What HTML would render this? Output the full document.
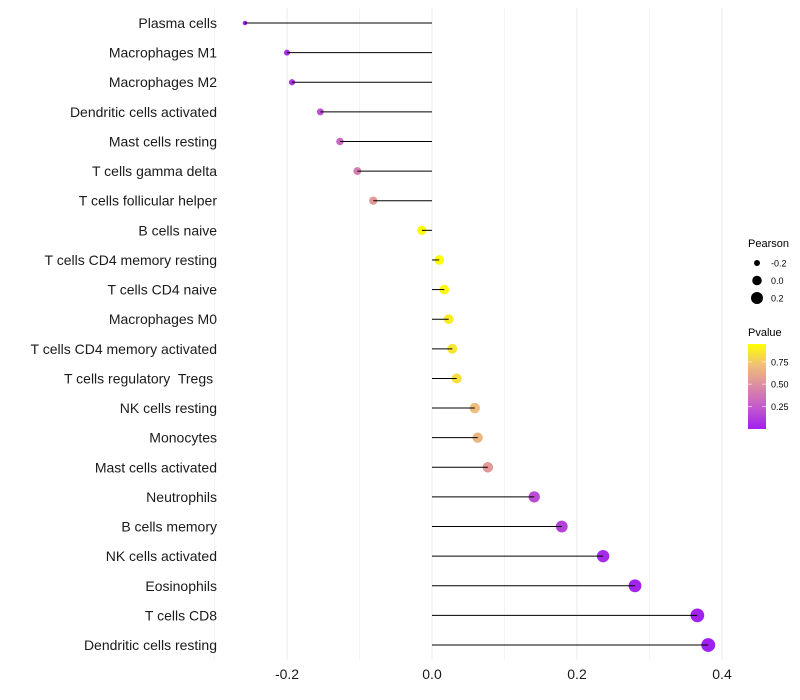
<!DOCTYPE html>
<html><head><meta charset="utf-8"><style>
body{margin:0;background:#fff;}
svg{display:block;font-family:"Liberation Sans",sans-serif;}
text{white-space:pre;}
</style></head><body>
<svg id="chart" width="800" height="700"></svg>
<script>
const categories=["Plasma cells","Macrophages M1","Macrophages M2","Dendritic cells activated","Mast cells resting","T cells gamma delta","T cells follicular helper","B cells naive","T cells CD4 memory resting","T cells CD4 naive","Macrophages M0","T cells CD4 memory activated","T cells regulatory  Tregs ","NK cells resting","Monocytes","Mast cells activated","Neutrophils","B cells memory","NK cells activated","Eosinophils","T cells CD8","Dendritic cells resting"];
const pearson=[-0.258,-0.2,-0.193,-0.154,-0.127,-0.103,-0.081,-0.014,0.010,0.017,0.023,0.028,0.034,0.059,0.063,0.077,0.141,0.179,0.236,0.280,0.366,0.381];
const pvalue=[0.02,0.06,0.08,0.22,0.32,0.42,0.55,0.93,0.95,0.92,0.88,0.85,0.83,0.7,0.67,0.55,0.2,0.15,0.06,0.03,0.02,0.01];
const xTicks=[-0.2,0.0,0.2,0.4];
const xTickLabels=["-0.2","0.0","0.2","0.4"];
const gridVals=[-0.3,-0.2,-0.1,0,0.1,0.2,0.3,0.4];
const legendSizes=[-0.2,0.0,0.2];
const legendPTicks=[0.25,0.5,0.75];

const NS="http://www.w3.org/2000/svg";
const svg=document.getElementById('chart');
function el(t,a,p){const e=document.createElementNS(NS,t);for(const k in a)e.setAttribute(k,a[k]);(p||svg).appendChild(e);return e;}
const x=v=>432+v*725;
const y=i=>23+i*29.62;
const r=v=>Math.sqrt(Math.max(22.5+67.5*v,3));
const stops=[[0,[160,32,240]],[0.25,[195,88,204]],[0.5,[220,138,166]],[0.75,[239,191,120]],[1,[255,255,0]]];
function col(p){const t=Math.min(1,Math.max(0,(p-0.01)/0.94));for(let i=0;i<stops.length-1;i++){const[a,ca]=stops[i],[b,cb]=stops[i+1];if(t<=b){const f=(t-a)/(b-a);return `rgb(${ca.map((c,j)=>Math.round(c+(cb[j]-c)*f)).join(',')})`;}}return 'rgb(255,255,0)';}

gridVals.forEach(g=>{const l=el('line',{x1:x(g),x2:x(g),y1:8,y2:660,stroke:'#ebebeb','stroke-width':Math.abs(g*10)%2<0.01?1:0.6});

});

categories.forEach((c,i)=>{
const t=el('text',{x:217,y:y(i)+5,'text-anchor':'end','font-size':14,fill:'#1a1a1a'});t.textContent=c;


const d=el('circle',{cx:x(pearson[i]),cy:y(i),r:r(pearson[i]),fill:col(pvalue[i])});


const s=el('line',{x1:x(0),x2:x(pearson[i]),y1:y(i),y2:y(i),stroke:'#000','stroke-width':1});


});
xTicks.forEach((v,i)=>{const t=el('text',{x:x(v),y:679,'text-anchor':'middle','font-size':14,fill:'#1a1a1a'});t.textContent=xTickLabels[i];

});

const lt=el('text',{x:748,y:247,'font-size':11,fill:'#000'});lt.textContent='Pearson';


legendSizes.forEach((v,i)=>{const cy=263+i*17.5;
const c=el('circle',{cx:757,cy:cy,r:r(v),fill:'#000'});


const t=el('text',{x:771,y:cy+3.5,'font-size':9,fill:'#000'});t.textContent=v.toFixed(1);

});
const pt=el('text',{x:748,y:336,'font-size':11,fill:'#000'});pt.textContent='Pvalue';


const defs=el('defs',{});const lg=el('linearGradient',{id:'pg',x1:0,y1:1,x2:0,y2:0},defs);
stops.forEach(s=>el('stop',{offset:s[0],'stop-color':`rgb(${s[1].join(',')})`},lg));
const bar=el('rect',{x:748,y:344,width:18,height:85,fill:'url(#pg)'});


legendPTicks.forEach(v=>{const cy=428-(v-0.01)/0.94*84;
el('line',{x1:748,x2:752,y1:cy,y2:cy,stroke:'#fff','stroke-opacity':0.6});el('line',{x1:762,x2:766,y1:cy,y2:cy,stroke:'#fff','stroke-opacity':0.6});
const t=el('text',{x:771,y:cy+3.5,'font-size':9,fill:'#000'});t.textContent=v.toFixed(2);

});
</script>
</body></html>
